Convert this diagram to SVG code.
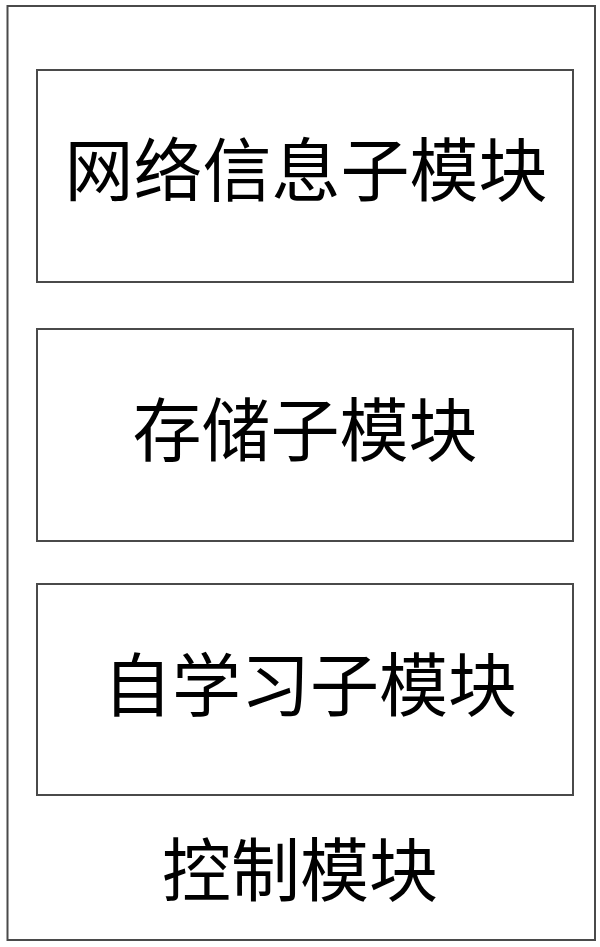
<svg xmlns="http://www.w3.org/2000/svg" width="600" height="947" viewBox="0 0 600 947">
<style>
.box{fill:none;stroke:#4a4a4a;stroke-width:2}
.lbl{font-family:"Noto Sans CJK SC","Noto Sans CJK JP",sans-serif;font-size:69px;fill:#000;text-anchor:middle;dominant-baseline:central}
</style>
<rect width="600" height="947" fill="#fff"/>
<g id="control-module">
<rect class="box" x="7.5" y="6" width="587.5" height="934"/>
<text class="lbl" x="300" y="866">控制模块</text>
</g>
<g id="network-info">
<rect class="box" x="37" y="70" width="536" height="212"/>
<text class="lbl" x="306" y="166">网络信息子模块</text>
</g>
<g id="storage">
<rect class="box" x="37" y="329" width="536" height="212"/>
<text class="lbl" x="305" y="426">存储子模块</text>
</g>
<g id="self-learning">
<rect class="box" x="37" y="584" width="536" height="211"/>
<text class="lbl" x="310" y="681">自学习子模块</text>
</g>
<g id="connectors"></g>
</svg>
